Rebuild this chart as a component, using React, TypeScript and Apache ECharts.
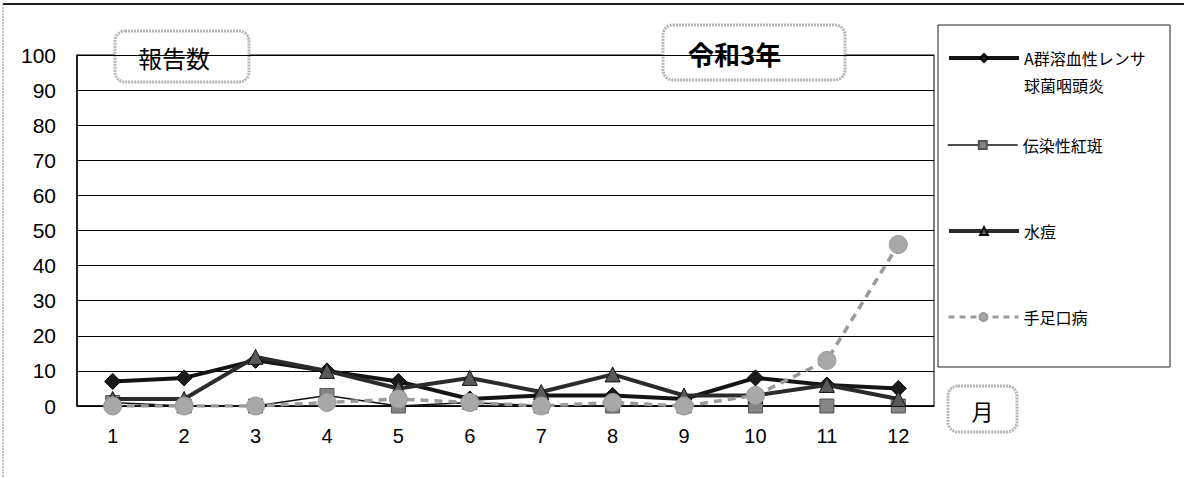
import React, { useEffect, useRef } from "react";
import * as echarts from "echarts";

const months = ["1", "2", "3", "4", "5", "6", "7", "8", "9", "10", "11", "12"];
const strepName = "A群溶血性レンサ\n球菌咽頭炎";
const erythemaName = "伝染性紅斑";
const varicellaName = "水痘";
const hfmdName = "手足口病";
const strep = [7, 8, 13, 10, 7, 2, 3, 3, 2, 8, 6, 5];
const erythema = [1, 0, 0, 3, 0, 1, 0, 0, 0, 0, 0, 0];
const varicella = [2, 2, 14, 10, 5, 8, 4, 9, 3, 3, 6, 2];
const hfmd = [0, 0, 0, 1, 2, 1, 0, 1, 0, 3, 13, 46];
const yMin = 0;
const yMax = 100;
const yInterval = 10;

const JP = "'Noto Sans CJK JP', 'Noto Sans', sans-serif";
const NUM = "'Liberation Sans', Arial, sans-serif";

function labelBox(x: number, y: number, w: number, h: number, text: string, size: number, weight: string, tx?: number) {
  return {
    type: "group",
    z: 100,
    children: [
      {
        type: "rect",
        shape: { x, y, width: w, height: h, r: 10 },
        style: { fill: "#fff", stroke: "#b5b5b5", lineWidth: 3, lineDash: [2, 1] },
      },
      {
        type: "text",
        x: tx !== undefined ? tx : x + w / 2,
        y: y + h / 2 + 1,
        style: {
          text,
          fontSize: size,
          fontWeight: weight,
          fontFamily: JP,
          fill: "#000",
          align: tx !== undefined ? "left" : "center",
          verticalAlign: "middle",
        },
      },
    ],
  };
}

function legendFor(name: string, top: number, line: any, lineHeight: number, formatter?: any) {
  const l: any = {
    data: [name],
    orient: "vertical",
    left: 947,
    top,
    padding: 0,
    itemWidth: 70,
    itemHeight: 10,
    itemGap: 0,
    selectedMode: false,
    lineStyle: line,
    textStyle: { fontSize: 16, color: "#000", fontFamily: JP, lineHeight },
  };
  if (formatter) l.formatter = formatter;
  return l;
}

export default function App() {
  const ref = useRef<HTMLDivElement>(null);
  useEffect(() => {
    document.body.style.margin = "0";
    const chart = echarts.init(ref.current!, null, { renderer: "svg" });
    chart.setOption({
      animation: false,
      backgroundColor: "#fff",
      grid: { left: 77, right: 250, top: 55, bottom: 72, show: true, borderColor: "#000", borderWidth: 1, containLabel: false },
      xAxis: {
        type: "category",
        data: months,
        boundaryGap: true,
        axisLine: { lineStyle: { color: "#000", width: 1.5 } },
        axisTick: { show: false },
        axisLabel: { fontSize: 20, color: "#000", fontFamily: NUM, margin: 20 },
      },
      yAxis: {
        type: "value",
        min: yMin,
        max: yMax,
        interval: yInterval,
        axisLine: { show: true, lineStyle: { color: "#000", width: 1.5 } },
        axisTick: { show: false },
        axisLabel: { fontSize: 21, color: "#000", fontFamily: NUM, margin: 21 },
        splitLine: { lineStyle: { color: "#000", width: 1.2 } },
      },
      legend: [
        legendFor(strepName, 17.5, { color: "#141414", width: 4 }, 27, (n: string) => "\n" + n),
        legendFor(erythemaName, 133, { color: "#111", width: 1.5 }, 24),
        legendFor(varicellaName, 219, { color: "#2b2b2b", width: 4 }, 24),
        legendFor(hfmdName, 305, { color: "#9a9a9a", width: 3, type: [6, 5] }, 24),
      ],
      series: [
        {
          name: strepName,
          type: "line",
          data: strep,
          symbol: "diamond",
          symbolSize: 16,
          lineStyle: { color: "#141414", width: 4 },
          itemStyle: { color: "#1a1a1a", borderColor: "#000", borderWidth: 1 },
          z: 3,
        },
        {
          name: erythemaName,
          type: "line",
          data: erythema,
          symbol: "rect",
          symbolSize: 14,
          lineStyle: { color: "#111", width: 1.5 },
          itemStyle: { color: "#858585", borderColor: "#555", borderWidth: 1 },
          z: 2,
        },
        {
          name: varicellaName,
          type: "line",
          data: varicella,
          symbol: "triangle",
          symbolSize: 15,
          lineStyle: { color: "#2b2b2b", width: 4 },
          itemStyle: { color: "#5a5a5a", borderColor: "#111", borderWidth: 1 },
          z: 4,
        },
        {
          name: hfmdName,
          type: "line",
          data: hfmd,
          symbol: "circle",
          symbolSize: 18,
          lineStyle: { color: "#9a9a9a", width: 3.5, type: [8, 6] },
          itemStyle: { color: "#a8a8a8", borderColor: "#999", borderWidth: 1 },
          z: 5,
        },
      ],
      graphic: [
        { type: "line", z: 50, shape: { x1: 3, y1: 4, x2: 1184, y2: 4 }, style: { stroke: "#222", lineWidth: 2 } },
        { type: "line", z: 50, shape: { x1: 3, y1: 4, x2: 3, y2: 478 }, style: { stroke: "#888", lineWidth: 1, lineDash: [2, 1] } },
        { type: "rect", z: 50, shape: { x: 938, y: 25, width: 232, height: 342 }, style: { fill: "none", stroke: "#222", lineWidth: 1 } },
        labelBox(115, 31, 134, 51, "報告数", 24, "normal", 138),
        labelBox(663, 25, 182, 55, "令和3年", 26, "bold", 688),
        labelBox(948, 386, 69, 46, "月", 22, "normal"),
      ],
    });
    return () => chart.dispose();
  }, []);
  return <div ref={ref} style={{ width: 1184, height: 478 }} />;
}
